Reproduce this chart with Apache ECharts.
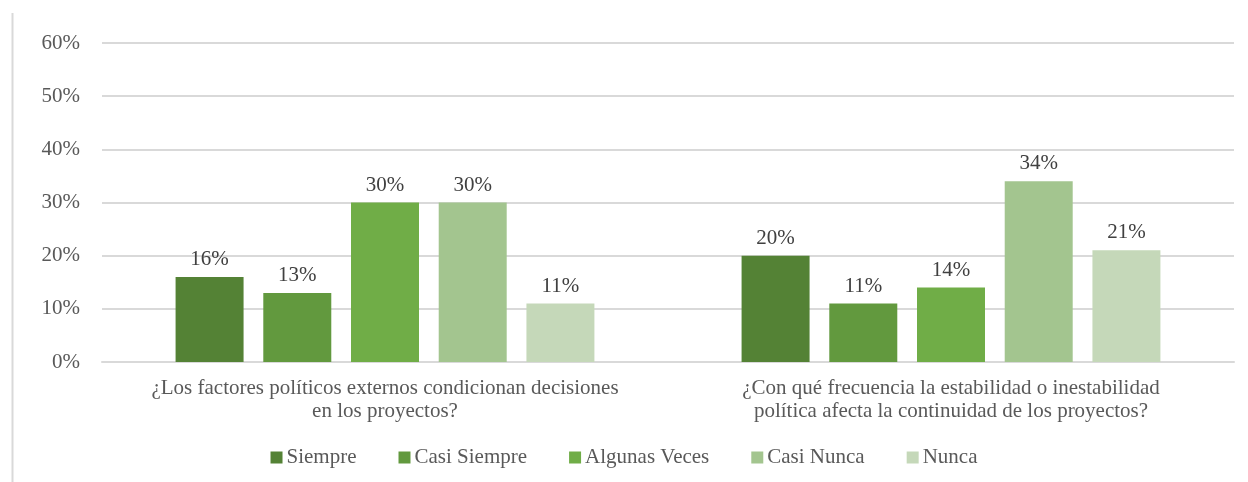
<!DOCTYPE html>
<html>
<head>
<meta charset="utf-8">
<script src="https://cdn.jsdelivr.net/npm/echarts@6/dist/echarts.min.js"></script>
<style>
  html, body { margin: 0; padding: 0; background: #fff; }
  #chart { width: 1248px; height: 482px; }
</style>
</head>
<body>
<div id="chart"></div>
<script>
// preguntas (eje x)
const categories = [
  "¿Los factores políticos externos condicionan decisiones\nen los proyectos?",
  "¿Con qué frecuencia la estabilidad o inestabilidad\npolítica afecta la continuidad de los proyectos?"
];
const seriesNames = ["Siempre", "Casi Siempre", "Algunas Veces", "Casi Nunca", "Nunca"];
const seriesColors = ["#548235", "#62993e", "#70ad47", "#a3c58f", "#c5d8b9"];
// porcentajes por respuesta
const siempre = [16, 20];
const casiSiempre = [13, 11];
const algunasVeces = [30, 14];
const casiNunca = [30, 34];
const nunca = [11, 21];
const values = [siempre, casiSiempre, algunasVeces, casiNunca, nunca];

const font = "Liberation Serif";
const fs = 21;
const chart = echarts.init(document.getElementById("chart"));

chart.setOption({
  textStyle: { fontFamily: font },
  graphic: [
    {
      type: "line",
      shape: { x1: 12.5, y1: 13, x2: 12.5, y2: 482 },
      style: { stroke: "#d9d9d9", lineWidth: 2 }
    }
  ],
  grid: { left: 102, right: 14, top: 43, bottom: 120 },
  legend: {
    bottom: 9,
    left: "center",
    itemWidth: 12,
    itemHeight: 12,
    itemGap: 42,
    icon: "rect",
    textStyle: { fontFamily: font, fontSize: fs, color: "#595959", padding: [0, 0, 0, -1] },
    data: seriesNames
  },
  xAxis: {
    type: "category",
    data: categories,
    axisLine: { lineStyle: { color: "#d9d9d9", width: 2 } },
    axisTick: { show: false },
    axisLabel: {
      interval: 0,
      hideOverlap: false,
      fontFamily: font,
      fontSize: fs,
      color: "#595959",
      lineHeight: 23,
      margin: 15
    }
  },
  yAxis: {
    type: "value",
    min: 0,
    max: 60,
    interval: 10,
    axisLine: { show: false },
    axisTick: { show: false },
    splitLine: { lineStyle: { color: "#d9d9d9", width: 2 } },
    axisLabel: {
      fontFamily: font,
      fontSize: fs,
      color: "#595959",
      margin: 22,
      formatter: "{value}%"
    }
  },
  series: seriesNames.map((name, i) => ({
    name: name,
    type: "bar",
    data: values[i],
    barGap: "29%",
    barCategoryGap: "26%",
    itemStyle: { color: seriesColors[i] },
    label: {
      show: true,
      position: "top",
      distance: 7,
      fontFamily: font,
      fontSize: fs,
      color: "#404040",
      formatter: "{c}%"
    }
  }))
});
</script>
</body>
</html>
